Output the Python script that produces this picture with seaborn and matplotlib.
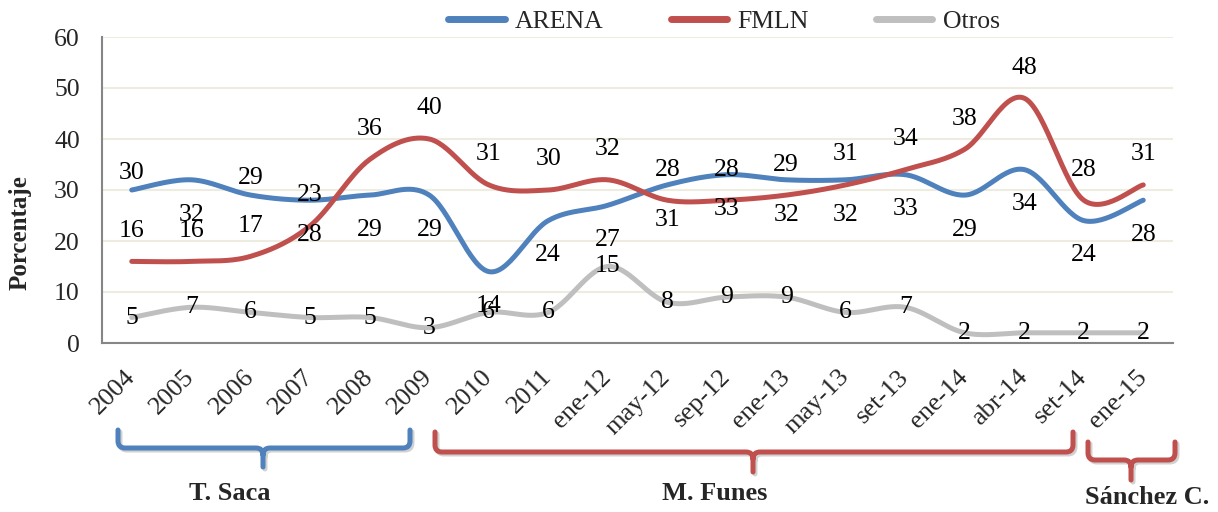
import numpy as np
import pandas as pd
import seaborn as sns
import matplotlib.pyplot as plt
from matplotlib.path import Path
from matplotlib.patches import PathPatch

# Datos de la encuesta (porcentaje)
periodos = ['2004', '2005', '2006', '2007', '2008', '2009', '2010', '2011',
            'ene-12', 'may-12', 'sep-12', 'ene-13', 'may-13', 'set-13',
            'ene-14', 'abr-14', 'set-14', 'ene-15']
arena = [30, 32, 29, 28, 29, 29, 14, 24, 27, 31, 33, 32, 32, 33, 29, 34, 24, 28]
fmln = [16, 16, 17, 23, 36, 40, 31, 30, 32, 28, 28, 29, 31, 34, 38, 48, 28, 31]
otros = [5, 7, 6, 5, 5, 3, 6, 6, 15, 8, 9, 9, 6, 7, 2, 2, 2, 2]

series = {'ARENA': arena, 'FMLN': fmln, 'Otros': otros}
colores = {'ARENA': '#4F81BD', 'FMLN': '#C0504D', 'Otros': '#BFBFBF'}

# desplazamiento vertical de las etiquetas (puntos)
dy_arena = [12, -25, 12, -25, -25, -25, -25, -25, -25, -25, -25, -25, -25, -25, -25, -25, -25, -25]
dy_fmln = [22] * len(periodos)
dy_otros = [0] * len(periodos)
desplaz = {'ARENA': dy_arena, 'FMLN': dy_fmln, 'Otros': dy_otros}


def suavizar(y, n=30):
    # curva suave tipo Excel (bezier con tangentes de Catmull-Rom)
    y = np.asarray(y, float)
    x = np.arange(len(y), dtype=float)
    pts = np.column_stack([x, y])
    out = []
    for i in range(len(pts) - 1):
        a = pts[max(i - 1, 0)]
        b = pts[i]
        c = pts[i + 1]
        d = pts[min(i + 2, len(pts) - 1)]
        c1 = b + (c - a) / 6
        c2 = c - (d - b) / 6
        t = np.linspace(0, 1, n, endpoint=False)[:, None]
        out.append((1 - t) ** 3 * b + 3 * (1 - t) ** 2 * t * c1 + 3 * (1 - t) * t ** 2 * c2 + t ** 3 * c)
    out.append(pts[-1:])
    return np.vstack(out)


filas = []
for nombre, vals in series.items():
    curva = suavizar(vals)
    filas.append(pd.DataFrame({'x': curva[:, 0], 'y': curva[:, 1], 'serie': nombre}))
df = pd.concat(filas, ignore_index=True)

sns.set_style('white')
plt.rcParams['font.family'] = ['Liberation Serif', 'DejaVu Serif']

fig = plt.figure(figsize=(12.18, 5.12), dpi=100)
ax = fig.add_axes([102 / 1218, 1 - 343 / 512, (1173 - 102) / 1218, (343 - 37) / 512])

sns.lineplot(data=df, x='x', y='y', hue='serie', palette=colores, sort=False,
             estimator=None, lw=3.6, ax=ax, legend=False, zorder=3)

for nombre, vals in series.items():
    for i, v in enumerate(vals):
        ax.annotate(str(v), (i, v), xytext=(0, desplaz[nombre][i]), textcoords='offset points',
                    ha='center', va='center', fontsize=18.5, color='black', zorder=5)

ax.set_xlim(-0.5, len(periodos) - 0.5)
ax.set_ylim(0, 60)
ax.set_yticks(range(0, 61, 10))
ax.set_xticks(range(len(periodos)))
ax.set_xticklabels(periodos, rotation=45, ha='right', va='center', rotation_mode='anchor')
ax.set_xticks(np.arange(-0.5, len(periodos), 1), minor=True)
ax.tick_params(axis='x', which='major', length=0, pad=22, labelsize=19)
ax.tick_params(axis='x', which='minor', length=6, width=1.5, color='#868686', direction='out')
ax.tick_params(axis='y', length=0, pad=16, labelsize=18.5)
ax.yaxis.grid(True, color='#EEECE1', lw=1.5)
ax.xaxis.grid(False)
ax.set_axisbelow(True)
for lado in ['top', 'right']:
    ax.spines[lado].set_visible(False)
for lado in ['left', 'bottom']:
    ax.spines[lado].set_color('#868686')
    ax.spines[lado].set_linewidth(1.5)
ax.set_xlabel('')
ax.set_ylabel('Porcentaje', fontsize=18, fontweight='bold')
ax.yaxis.set_label_coords(-0.0654, 0.36)

manejadores = [plt.Line2D([], [], color=colores[k], lw=5, solid_capstyle='round') for k in series]
ax.legend(manejadores, list(series), loc='center', bbox_to_anchor=(724 / 1218, 1 - 22 / 512),
          bbox_transform=fig.transFigure, ncol=3, frameon=False, fontsize=18.5,
          handlelength=2.2, handletextpad=0.4, columnspacing=2.6)


def llave(x0, x1, xm, ytop, ybar, ytip, color, r=7):
    # llave horizontal en pixeles de la figura
    W, H = 1218, 512
    verts = [(x0, ytop), (x0, ybar - r), (x0, ybar), (x0 + r, ybar), (xm - r, ybar), (xm, ybar), (xm, ybar + r),
             (xm, ytip), (xm, ybar + r), (xm, ybar), (xm + r, ybar), (x1 - r, ybar), (x1, ybar), (x1, ybar - r),
             (x1, ytop)]
    codes = [Path.MOVETO, Path.LINETO, Path.CURVE3, Path.CURVE3, Path.LINETO, Path.CURVE3, Path.CURVE3,
             Path.LINETO, Path.MOVETO, Path.CURVE3, Path.CURVE3, Path.LINETO, Path.CURVE3, Path.CURVE3,
             Path.LINETO]
    for dx, col, alpha in [(2, '#000000', 0.18), (0, color, 1.0)]:
        v = [((px + dx) / W, 1 - (py + dx) / H) for px, py in verts]
        fig.add_artist(PathPatch(Path(v, codes), fill=False, edgecolor=col, alpha=alpha, lw=3.6,
                                 capstyle='round', joinstyle='round', transform=fig.transFigure))


llave(118, 410, 263, 430, 448, 467, '#4F81BD')
llave(435, 1073, 753, 432, 452, 472, '#C0504D')
llave(1088, 1175, 1131, 442, 460, 480, '#C0504D')

fig.text(230 / 1218, 1 - 493 / 512, 'T. Saca', ha='center', va='center', fontsize=19, fontweight='bold')
fig.text(715 / 1218, 1 - 493 / 512, 'M. Funes', ha='center', va='center', fontsize=19, fontweight='bold')
fig.text(1147 / 1218, 1 - 497 / 512, 'Sánchez C.', ha='center', va='center', fontsize=19, fontweight='bold')

fig.savefig('out.png', dpi=100)
